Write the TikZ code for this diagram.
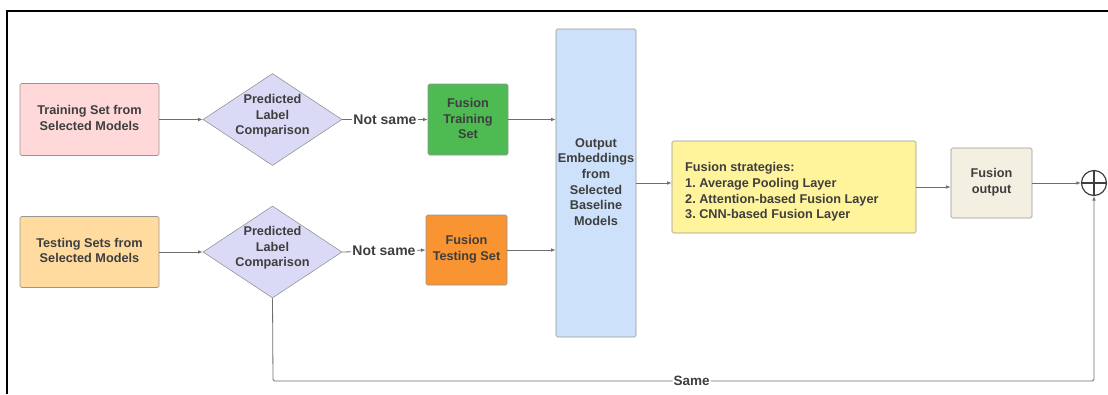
\documentclass[tikz,border=0pt]{standalone}
\usepackage{fontspec}
\setmainfont{Liberation Sans}
\usetikzlibrary{shapes.geometric,arrows.meta}
\frenchspacing

\definecolor{txt}{RGB}{62,62,62}
\definecolor{edge}{RGB}{150,150,150}
\definecolor{wire}{RGB}{110,110,110}
\definecolor{pinkfill}{RGB}{255,217,217}
\definecolor{lavfill}{RGB}{218,218,247}
\definecolor{greenfill}{RGB}{77,186,82}
\definecolor{peachfill}{RGB}{255,219,160}
\definecolor{orangefill}{RGB}{248,148,50}
\definecolor{bluefill}{RGB}{205,225,250}
\definecolor{yellowfill}{RGB}{255,244,156}
\definecolor{beigefill}{RGB}{244,240,225}

\tikzset{
  blockbox/.style={draw=edge, line width=0.6pt, rounded corners=1.5pt, inner sep=0pt},
  decision/.style={diamond, draw=edge, line width=0.6pt, fill=lavfill, inner sep=0pt,
    minimum width=139pt, minimum height=92pt},
  boxtext/.style={font=\bfseries\fontsize{12.7}{15.6}\selectfont, text=txt, align=center, inner sep=0pt},
  edgetext/.style={font=\bfseries\fontsize{14}{16}\selectfont, text=txt, fill=white, inner sep=1pt},
  flow/.style={draw=wire, line width=0.8pt, -{Latex[length=4.5pt,width=3.5pt]}},
  frameline/.style={draw=black, line width=1.1pt},
}

\begin{document}
\begin{tikzpicture}[x=1pt,y=-1pt]
\useasboundingbox (0,0) rectangle (1108,394);

% outer frame
\draw[frameline] (7,394) -- (7,11) -- (1108,11);

% input sets
\node[blockbox, fill=pinkfill, minimum width=139pt, minimum height=72pt] (train) at (89.5,119.5) {};
\node[boxtext] (traint) at (89.5,118) {Training Set from\\Selected Models};
\node[blockbox, fill=peachfill, minimum width=139pt, minimum height=71pt] (test) at (89.5,252) {};
\node[boxtext] (testt) at (89.5,250.5) {Testing Sets from\\Selected Models};

% comparisons
\node[decision] (d1) at (272.5,119.5) {};
\node[boxtext] (d1t) at (272.5,116) {Predicted\\Label\\Comparison};
\node[decision] (d2) at (272.5,252) {};
\node[boxtext] (d2t) at (272.5,248) {Predicted\\Label\\Comparison};

% fusion sets
\node[blockbox, fill=greenfill, minimum width=80pt, minimum height=71pt] (g1) at (468,119.5) {};
\node[boxtext] (g1t) at (468,118.5) {Fusion\\Training\\Set};
\node[blockbox, fill=orangefill, minimum width=81pt, minimum height=70pt] (o1) at (466.5,250) {};
\node[boxtext] (o1t) at (466.5,249) {Fusion\\Testing Set};

% embeddings
\node[blockbox, fill=bluefill, minimum width=80pt, minimum height=308pt] (emb) at (596,183) {};
\node[boxtext] (embt) at (596,182) {Output\\Embeddings\\from\\Selected\\Baseline\\Models};

% fusion strategies
\node[blockbox, fill=yellowfill, minimum width=244pt, minimum height=92pt] (strat) at (794,187) {};
\node[boxtext, align=left, anchor=west] (stratt) at (685,192)
  {Fusion strategies:\\1. Average Pooling Layer\\2. Attention-based Fusion Layer\\3. CNN-based Fusion Layer};

% fusion output
\node[blockbox, fill=beigefill, minimum width=81pt, minimum height=70pt] (fout) at (991.5,183) {};
\node[boxtext] (foutt) at (991.5,182) {Fusion\\output};

% sum
\node[circle, draw=txt, line width=1.2pt, minimum size=25pt, inner sep=0pt] (plus) at (1094,183) {};
\draw[txt, line width=1.2pt] (plus.north) -- (plus.south) (plus.west) -- (plus.east);

% connectors
\draw[flow] (train.east) -- (d1.west);
\draw[flow] (test.east) -- (d2.west);
\draw[flow] (d1.east) -- node[edgetext] (ns1) {Not same} (g1.west);
\draw[flow] (d2.east) -- node[edgetext] (ns2) {Not same} (o1.west);
\draw[flow] (g1.east) -- (g1.east -| emb.west);
\draw[flow] (o1.east) -- (o1.east -| emb.west);
\draw[flow] (emb.east) -- (emb.east -| strat.west);
\draw[flow] (strat.east) -- (strat.east -| fout.west);
\draw[flow] (fout.east) -- (plus.west);

\coordinate (sameL) at (273,381);
\coordinate (sameR) at (1094,381);
\draw[flow, rounded corners=1.5pt] (d2.south) -- (sameL) -- node[edgetext, pos=0.51, font=\bfseries\fontsize{13.5}{16}\selectfont] (same) {Same} (sameR) -- (plus.south);
\end{tikzpicture}
\end{document}
